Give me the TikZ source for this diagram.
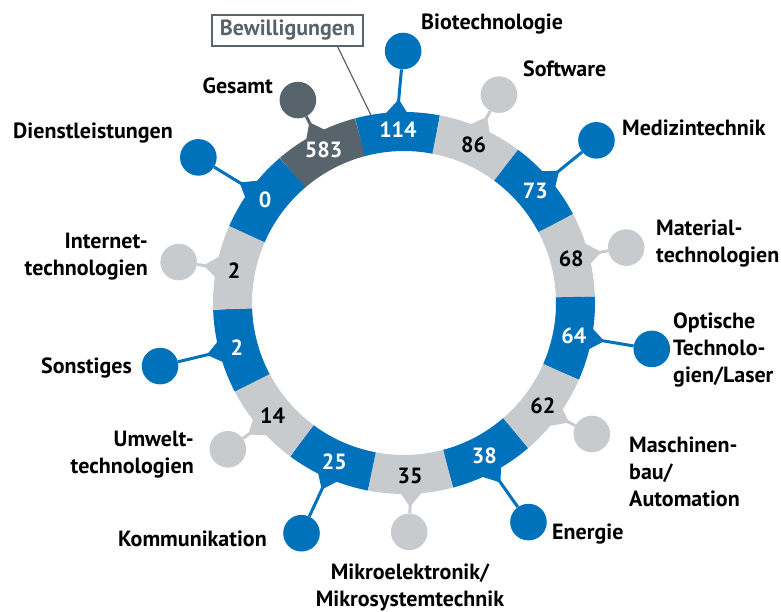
\documentclass[tikz,border=0pt]{standalone}
\usepackage{fontspec}
\setmainfont{PT Sans}
\usetikzlibrary{arrows.meta}

\definecolor{bmblue}{RGB}{0,114,188}
\definecolor{bmgrey}{RGB}{200,203,206}
\definecolor{bmdark}{RGB}{88,100,108}

\begin{document}
\begin{tikzpicture}[x=1pt,y=1pt]

\tikzset{seg/.style = {line width=39pt}}
\tikzset{dot/.style = {shape=circle, minimum size=36.6pt, inner sep=0pt}}
\tikzset{stem/.style = {line width=3pt, {Triangle[reversed, width=22pt, length=15pt]}-}}
\tikzset{num/.style = {font=\fontsize{22}{26}\selectfont\bfseries, inner sep=0pt}}
\tikzset{lab/.style = {font=\fontsize{22}{27}\selectfont\bfseries, inner sep=0pt}}

\useasboundingbox (0,0) rectangle (781,611);

\begin{scope}[shift={(404,308)}]
%ring
\draw[seg, bmdark] (104.84:171.5) arc[start angle=104.84, delta angle=25.75, radius=171.5];
\draw[seg, bmblue] (79.13:171.5) arc[start angle=79.13, delta angle=25.75, radius=171.5];
\draw[seg, bmgrey] (53.41:171.5) arc[start angle=53.41, delta angle=25.75, radius=171.5];
\draw[seg, bmblue] (27.70:171.5) arc[start angle=27.70, delta angle=25.75, radius=171.5];
\draw[seg, bmgrey] (1.98:171.5) arc[start angle=1.98, delta angle=25.75, radius=171.5];
\draw[seg, bmblue] (-23.73:171.5) arc[start angle=-23.73, delta angle=25.75, radius=171.5];
\draw[seg, bmgrey] (-49.45:171.5) arc[start angle=-49.45, delta angle=25.75, radius=171.5];
\draw[seg, bmblue] (-75.16:171.5) arc[start angle=-75.16, delta angle=25.75, radius=171.5];
\draw[seg, bmgrey] (-100.87:171.5) arc[start angle=-100.87, delta angle=25.75, radius=171.5];
\draw[seg, bmblue] (-126.59:171.5) arc[start angle=-126.59, delta angle=25.75, radius=171.5];
\draw[seg, bmgrey] (-152.30:171.5) arc[start angle=-152.30, delta angle=25.75, radius=171.5];
\draw[seg, bmblue] (-178.02:171.5) arc[start angle=-178.02, delta angle=25.75, radius=171.5];
\draw[seg, bmgrey] (-203.73:171.5) arc[start angle=-203.73, delta angle=25.75, radius=171.5];
\draw[seg, bmblue] (-229.45:171.5) arc[start angle=-229.45, delta angle=25.75, radius=171.5];

%pins
\node[dot, fill=bmdark] (gesamt) at (117.6:229) {};
\node[dot, fill=bmblue] (bio) at (90.2:252) {};
\node[dot, fill=bmgrey] (soft) at (65.5:229) {};
\node[dot, fill=bmblue] (medi) at (40.2:252) {};
\node[dot, fill=bmgrey] (mat) at (14.0:229) {};
\node[dot, fill=bmblue] (opt) at (-10.5:252) {};
\node[dot, fill=bmgrey] (masch) at (-34.9:229) {};
\node[dot, fill=bmblue] (energ) at (-60.4:252) {};
\node[dot, fill=bmgrey] (mikro) at (-88.7:229) {};
\node[dot, fill=bmblue] (komm) at (-114.0:252) {};
\node[dot, fill=bmgrey] (umw) at (-140.3:229) {};
\node[dot, fill=bmblue] (sonst) at (-165.5:252) {};
\node[dot, fill=bmgrey] (inet) at (169.7:229) {};
\node[dot, fill=bmblue] (dienst) at (144.7:252) {};

%stems
\draw[stem, bmdark] (117.7:189) -- (gesamt);
\draw[stem, bmblue] (92.0:189) -- (bio);
\draw[stem, bmgrey] (66.27:189) -- (soft);
\draw[stem, bmblue] (40.56:189) -- (medi);
\draw[stem, bmgrey] (14.84:189) -- (mat);
\draw[stem, bmblue] (-10.87:189) -- (opt);
\draw[stem, bmgrey] (-36.59:189) -- (masch);
\draw[stem, bmblue] (-62.3:189) -- (energ);
\draw[stem, bmgrey] (-88.0:189) -- (mikro);
\draw[stem, bmblue] (-113.7:189) -- (komm);
\draw[stem, bmgrey] (-139.44:189) -- (umw);
\draw[stem, bmblue] (-165.16:189) -- (sonst);
\draw[stem, bmgrey] (-190.87:189) -- (inet);
\draw[stem, bmblue] (-216.59:189) -- (dienst);

%values
\node[num, white] (v583) at (117.7:173) {583};
\node[num, white] (v114) at (92.0:173) {114};
\node[num] (v86) at (66.27:173) {86};
\node[num, white] (v73) at (40.56:173) {73};
\node[num] (v68) at (14.84:173) {68};
\node[num, white] (v64) at (-10.87:173) {64};
\node[num] (v62) at (-36.59:173) {62};
\node[num, white] (v38) at (-62.3:173) {38};
\node[num] (v35) at (-88.0:173) {35};
\node[num, white] (v25) at (-113.7:173) {25};
\node[num] (v14) at (-139.44:173) {14};
\node[num, white] (v2s) at (-165.16:173) {2};
\node[num] (v2i) at (-190.87:173) {2};
\node[num, white] (v0) at (-216.59:173) {0};

\coordinate (bewend) at (100:191);
\end{scope}

%labels
\node[lab, draw=bmdark, text=bmdark, line width=1.2pt, minimum width=151pt, minimum height=31pt] (bew) at (287.5,580.5) {Bewilligungen};
\draw[bmdark, line width=1.2pt] ([xshift=-26pt]bew.south east) -- (bewend);

\node[lab, anchor=east] (lgesamt) at (273,525.5) {Gesamt};
\node[lab, anchor=west] (lbio) at (421,587) {Biotechnologie};
\node[lab, anchor=west] (lsoft) at (523,542) {Software};
\node[lab, anchor=west] (lmedi) at (622,483.5) {Medizintechnik};
\node[lab, anchor=west, align=left] (lmat) at (656,367) {Material-\\technologien};
\node[lab, anchor=west, align=left] (lopt) at (673,261) {Optische\\Technolo-\\gien/Laser};
\node[lab, anchor=west, align=left] (lmasch) at (629,139.5) {Maschinen-\\bau/\\Automation};
\node[lab, anchor=west] (lenerg) at (552,77) {Energie};
\node[lab, align=center] (lmikro) at (410,24) {Mikroelektronik/\\Mikrosystemtechnik};
\node[lab, anchor=east] (lkomm) at (267,72) {Kommunikation};
\node[lab, anchor=east, align=right] (lumw) at (194,156) {Umwelt-\\technologien};
\node[lab, anchor=east] (lsonst) at (132,243) {Sonstiges};
\node[lab, anchor=east, align=right] (linet) at (148,354) {Internet-\\technologien};
\node[lab, anchor=east] (ldienst) at (173,478) {Dienstleistungen};

\end{tikzpicture}
\end{document}
